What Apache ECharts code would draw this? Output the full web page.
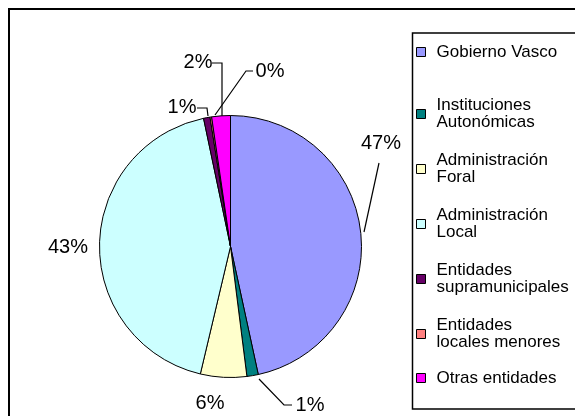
<!DOCTYPE html>
<html>
<head>
<meta charset="utf-8">
<script src="https://cdn.jsdelivr.net/npm/echarts@6/dist/echarts.min.js"></script>
<style>
  html, body { margin: 0; padding: 0; background: #fff; }
  #chart { width: 575px; height: 416px; }
</style>
</head>
<body>
<div id="chart"></div>
<script>
// categories and shares (percent of total)
var categories = [
  'Gobierno Vasco',
  'Instituciones\nAutonómicas',
  'Administración\nForal',
  'Administración\nLocal',
  'Entidades\nsupramunicipales',
  'Entidades\nlocales menores',
  'Otras entidades'
]
var shares = [46.6, 1.4, 5.7, 43.0, 0.8, 0.2, 2.3]
var colors = ['#9999FF', '#008080', '#FFFFCC', '#CCFFFF', '#660066', '#FF8080', '#FF00FF']

// where each percent label sits, with its leader line (null = no line)
var labelSpots = [
  { x: 381, y: 143, line: [[364, 232], [379, 163], [379, 163]] },
  { x: 310, y: 405, line: [[259, 379], [284, 405], [292, 405]] },
  { x: 210, y: 403, line: null },
  { x: 68, y: 247, line: null },
  { x: 182, y: 107, line: [[208, 116], [207, 108], [197, 108]] },
  { x: 270, y: 71, line: [[215, 115], [246, 71], [253, 71]] },
  { x: 198, y: 62, line: [[222, 116], [222, 63], [212, 63]] }
]

var font = '"Liberation Sans", Arial, sans-serif'

var chart = echarts.init(document.getElementById('chart'))

var seriesData = categories.map(function (name, i) {
  return {
    name: name,
    value: shares[i],
    itemStyle: { color: colors[i] },
    labelLine: { show: !!labelSpots[i].line }
  }
})

// legend text padding: two-line names keep the marker on the first line
var legendData = categories.map(function (name, i) {
  var pad = [17, 0, 0, 6]
  if (i === 0) pad = [24, 0, 24, 6]
  if (i === categories.length - 1) pad = [6, 0, 6, 6]
  return { name: name, textStyle: { padding: pad } }
})

chart.setOption({
  backgroundColor: '#fff',
  animation: false,
  graphic: [
    { // outer frame
      type: 'rect',
      shape: { x: 9, y: 9, width: 700, height: 700 },
      style: { fill: 'none', stroke: '#000', lineWidth: 2 },
      z: 100
    },
    { // legend frame
      type: 'rect',
      shape: { x: 412.5, y: 33, width: 300, height: 376 },
      style: { fill: 'none', stroke: '#000', lineWidth: 1.5 },
      z: 100
    }
  ],
  legend: {
    orient: 'vertical',
    left: 416,
    top: 19.5,
    padding: 0,
    itemGap: 4,
    itemWidth: 9,
    itemHeight: 9,
    icon: 'rect',
    selectedMode: false,
    itemStyle: { borderColor: '#000', borderWidth: 1 },
    textStyle: {
      fontFamily: font,
      fontSize: 17,
      lineHeight: 17,
      color: '#000',
      backgroundColor: 'rgba(0,0,0,0)'
    },
    data: legendData
  },
  series: [{
    type: 'pie',
    center: [230.5, 246.5],
    radius: 131,
    startAngle: 90,
    clockwise: true,
    percentPrecision: 0,
    avoidLabelOverlap: false,
    itemStyle: { borderColor: '#000', borderWidth: 1 },
    emphasis: { disabled: true },
    label: {
      show: true,
      position: 'outside',
      formatter: '{d}%',
      fontFamily: font,
      fontSize: 20,
      color: '#000'
    },
    labelLine: {
      show: true,
      lineStyle: { color: '#000', width: 1.2 }
    },
    labelLayout: function (params) {
      var spot = labelSpots[params.dataIndex]
      var out = { x: spot.x, y: spot.y, align: 'center', verticalAlign: 'middle' }
      if (spot.line) out.labelLinePoints = spot.line
      return out
    },
    data: seriesData
  }]
})
</script>
</body>
</html>
